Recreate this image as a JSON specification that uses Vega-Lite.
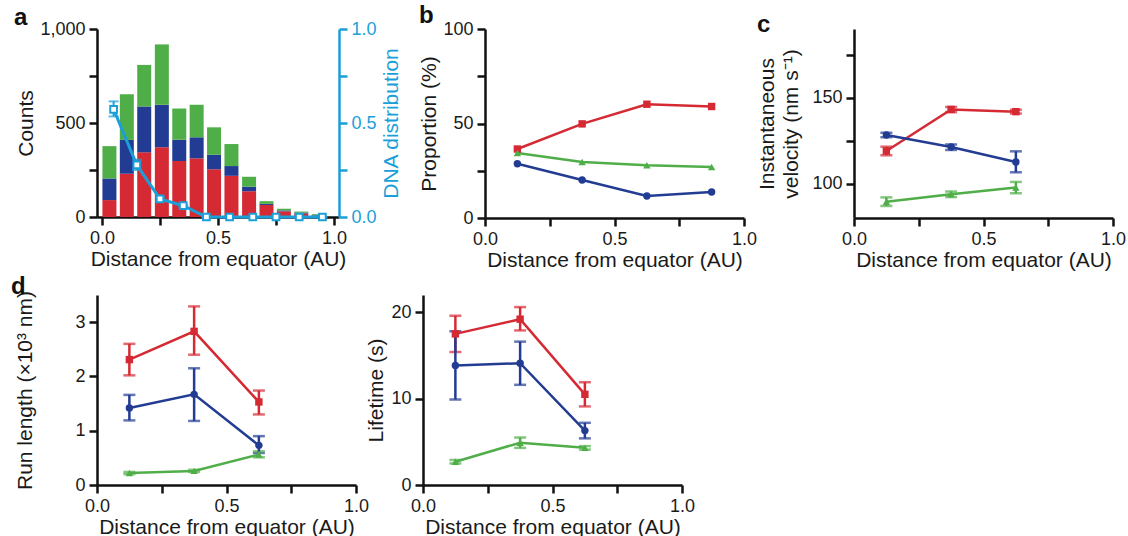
{
  "$schema": "https://vega.github.io/schema/vega-lite/v6.json",
  "padding": {"left": 10, "top": 4, "right": 0, "bottom": 0},
  "background": "white",
  "config": {
    "font": "Liberation Sans",
    "view": {"stroke": null},
    "axis": {
      "grid": false,
      "domainColor": "#111111",
      "domainWidth": 2.5,
      "tickColor": "#111111",
      "tickWidth": 2.5,
      "tickSize": 8,
      "labelFont": "Liberation Sans",
      "labelFontSize": 18,
      "labelColor": "#1a1a1a",
      "labelPadding": 4,
      "labelOverlap": false,
      "labelFlush": false,
      "titleFont": "Liberation Sans",
      "titleFontSize": 21,
      "titleFontWeight": "normal",
      "titleColor": "#1a1a1a",
      "titlePadding": 3
    },
    "axisX": {"titlePadding": 1},
    "title": {"font": "Liberation Sans", "fontSize": 24, "fontWeight": "bold", "color": "#111111", "anchor": "start", "frame": "bounds"}
  },
  "datasets": {
    "hist": [
      {"x": 0.032, "series": "s1", "count": 90}, {"x": 0.032, "series": "s2", "count": 115}, {"x": 0.032, "series": "s3", "count": 172},
      {"x": 0.107, "series": "s1", "count": 230}, {"x": 0.107, "series": "s2", "count": 180}, {"x": 0.107, "series": "s3", "count": 243},
      {"x": 0.182, "series": "s1", "count": 344}, {"x": 0.182, "series": "s2", "count": 244}, {"x": 0.182, "series": "s3", "count": 221},
      {"x": 0.258, "series": "s1", "count": 371}, {"x": 0.258, "series": "s2", "count": 226}, {"x": 0.258, "series": "s3", "count": 321},
      {"x": 0.333, "series": "s1", "count": 298}, {"x": 0.333, "series": "s2", "count": 113}, {"x": 0.333, "series": "s3", "count": 166},
      {"x": 0.408, "series": "s1", "count": 312}, {"x": 0.408, "series": "s2", "count": 112}, {"x": 0.408, "series": "s3", "count": 173},
      {"x": 0.483, "series": "s1", "count": 254}, {"x": 0.483, "series": "s2", "count": 77}, {"x": 0.483, "series": "s3", "count": 146},
      {"x": 0.558, "series": "s1", "count": 219}, {"x": 0.558, "series": "s2", "count": 52}, {"x": 0.558, "series": "s3", "count": 117},
      {"x": 0.634, "series": "s1", "count": 137}, {"x": 0.634, "series": "s2", "count": 24}, {"x": 0.634, "series": "s3", "count": 53},
      {"x": 0.709, "series": "s1", "count": 64}, {"x": 0.709, "series": "s2", "count": 6}, {"x": 0.709, "series": "s3", "count": 14},
      {"x": 0.784, "series": "s1", "count": 30}, {"x": 0.784, "series": "s2", "count": 5}, {"x": 0.784, "series": "s3", "count": 9},
      {"x": 0.859, "series": "s1", "count": 18}, {"x": 0.859, "series": "s2", "count": 5}, {"x": 0.859, "series": "s3", "count": 6},
      {"x": 0.934, "series": "s1", "count": 7}, {"x": 0.934, "series": "s2", "count": 3}, {"x": 0.934, "series": "s3", "count": 5}
    ],
    "dna": [
      {"x": 0.05, "v": 0.573, "lo": 0.535, "hi": 0.615},
      {"x": 0.15, "v": 0.277, "lo": 0.25, "hi": 0.305},
      {"x": 0.25, "v": 0.096, "lo": 0.086, "hi": 0.106},
      {"x": 0.35, "v": 0.06, "lo": 0.055, "hi": 0.065},
      {"x": 0.45, "v": 0, "lo": 0, "hi": 0},
      {"x": 0.55, "v": 0, "lo": 0, "hi": 0},
      {"x": 0.65, "v": 0, "lo": 0, "hi": 0},
      {"x": 0.75, "v": 0, "lo": 0, "hi": 0},
      {"x": 0.85, "v": 0, "lo": 0, "hi": 0},
      {"x": 0.95, "v": 0, "lo": 0, "hi": 0}
    ],
    "prop": [
      {"x": 0.125, "series": "s1", "v": 36.5}, {"x": 0.375, "series": "s1", "v": 49.8}, {"x": 0.625, "series": "s1", "v": 60.2}, {"x": 0.875, "series": "s1", "v": 59.0},
      {"x": 0.125, "series": "s2", "v": 28.7}, {"x": 0.375, "series": "s2", "v": 20.1}, {"x": 0.625, "series": "s2", "v": 11.6}, {"x": 0.875, "series": "s2", "v": 13.8},
      {"x": 0.125, "series": "s3", "v": 34.4}, {"x": 0.375, "series": "s3", "v": 29.6}, {"x": 0.625, "series": "s3", "v": 27.9}, {"x": 0.875, "series": "s3", "v": 27.0}
    ],
    "vel": [
      {"x": 0.125, "series": "s1", "v": 119, "lo": 116.5, "hi": 121.5},
      {"x": 0.375, "series": "s1", "v": 143.2, "lo": 141.6, "hi": 144.6},
      {"x": 0.625, "series": "s1", "v": 141.9, "lo": 140.8, "hi": 143.0},
      {"x": 0.125, "series": "s2", "v": 128.3, "lo": 127.0, "hi": 129.6},
      {"x": 0.375, "series": "s2", "v": 121.3, "lo": 119.6, "hi": 122.8},
      {"x": 0.625, "series": "s2", "v": 112.6, "lo": 106.6, "hi": 118.8},
      {"x": 0.125, "series": "s3", "v": 89.5, "lo": 87.0, "hi": 92.0},
      {"x": 0.375, "series": "s3", "v": 93.8, "lo": 92.2, "hi": 95.4},
      {"x": 0.625, "series": "s3", "v": 97.7, "lo": 94.4, "hi": 101.0}
    ],
    "run": [
      {"x": 0.125, "series": "s1", "v": 2.31, "lo": 2.02, "hi": 2.6},
      {"x": 0.375, "series": "s1", "v": 2.83, "lo": 2.4, "hi": 3.29},
      {"x": 0.625, "series": "s1", "v": 1.53, "lo": 1.3, "hi": 1.74},
      {"x": 0.125, "series": "s2", "v": 1.42, "lo": 1.19, "hi": 1.66},
      {"x": 0.375, "series": "s2", "v": 1.67, "lo": 1.18, "hi": 2.15},
      {"x": 0.625, "series": "s2", "v": 0.73, "lo": 0.59, "hi": 0.9},
      {"x": 0.125, "series": "s3", "v": 0.22, "lo": 0.2, "hi": 0.24},
      {"x": 0.375, "series": "s3", "v": 0.26, "lo": 0.24, "hi": 0.28},
      {"x": 0.625, "series": "s3", "v": 0.56, "lo": 0.51, "hi": 0.62}
    ],
    "life": [
      {"x": 0.125, "series": "s1", "v": 17.5, "lo": 15.4, "hi": 19.6},
      {"x": 0.375, "series": "s1", "v": 19.2, "lo": 17.9, "hi": 20.6},
      {"x": 0.625, "series": "s1", "v": 10.5, "lo": 9.1, "hi": 11.9},
      {"x": 0.125, "series": "s2", "v": 13.85, "lo": 9.9, "hi": 17.8},
      {"x": 0.375, "series": "s2", "v": 14.1, "lo": 11.6, "hi": 16.6},
      {"x": 0.625, "series": "s2", "v": 6.3, "lo": 5.4, "hi": 7.2},
      {"x": 0.125, "series": "s3", "v": 2.7, "lo": 2.5, "hi": 2.9},
      {"x": 0.375, "series": "s3", "v": 4.9, "lo": 4.3, "hi": 5.5},
      {"x": 0.625, "series": "s3", "v": 4.3, "lo": 4.1, "hi": 4.5}
    ]
  },
  "spacing": 5,
  "vconcat": [
    {
      "bounds": "flush",
      "spacing": 20,
      "hconcat": [
        {
          "width": 242, "height": 188,
          "title": {"text": "a", "offset": -10, "dx": -2},
          "encoding": {
            "x": {"field": "x", "type": "quantitative", "scale": {"domain": [0, 1], "nice": false},
                  "axis": {"title": "Distance from equator (AU)", "values": [0, 0.25, 0.5, 0.75, 1], "labelExpr": "datum.value == 0.25 || datum.value == 0.75 ? '' : format(datum.value, '.1f')"}}
          },
          "layer": [
            {
              "data": {"name": "hist"},
              "mark": {"type": "bar", "width": 14},
              "encoding": {
                "y": {"field": "count", "type": "quantitative", "stack": "zero", "scale": {"domain": [0, 1000], "nice": false},
                      "axis": {"title": "Counts", "values": [0, 250, 500, 750, 1000], "labelExpr": "datum.value % 500 == 0 ? format(datum.value, ',') : ''"}},
                "color": {"field": "series", "type": "nominal", "scale": {"domain": ["s1", "s2", "s3"], "range": ["#d52a33", "#223c93", "#4fae48"]}, "legend": null},
                "order": {"field": "series", "sort": "ascending"}
              }
            },
            {
              "data": {"name": "dna"},
              "layer": [
                {
                  "mark": {"type": "errorbar", "ticks": true, "size": 10, "thickness": 2, "color": "#1b9fd9"},
                  "encoding": {
                    "y": {"field": "lo", "type": "quantitative", "title": "DNA distribution", "scale": {"domain": [0, 1], "nice": false}},
                    "y2": {"field": "hi"}
                  }
                },
                {
                  "mark": {"type": "line", "color": "#1b9fd9", "strokeWidth": 3},
                  "encoding": {
                    "y": {"field": "v", "type": "quantitative", "title": "DNA distribution", "scale": {"domain": [0, 1], "nice": false},
                          "axis": {"orient": "right", "values": [0, 0.25, 0.5, 0.75, 1], "labelExpr": "datum.value == 0.25 || datum.value == 0.75 ? '' : format(datum.value, '.1f')",
                                   "domainColor": "#1b9fd9", "tickColor": "#1b9fd9", "labelColor": "#1b9fd9", "titleColor": "#1b9fd9", "titleAngle": 270, "titleBaseline": "top", "titlePadding": 4}}
                  }
                },
                {
                  "mark": {"type": "point", "shape": "square", "filled": true, "fill": "white", "stroke": "#1b9fd9", "strokeWidth": 2, "size": 45, "opacity": 1},
                  "encoding": {
                    "y": {"field": "v", "type": "quantitative", "title": "DNA distribution"}
                  }
                }
              ]
            }
          ],
          "resolve": {"scale": {"y": "independent"}, "axis": {"y": "independent"}}
        },
        {"width": 106, "height": 10, "data": {"values": []}, "mark": "point", "encoding": {}},
        {
          "width": 259, "height": 189,
          "title": {"text": "b", "offset": -8},
          "data": {"name": "prop"},
          "encoding": {
            "x": {"field": "x", "type": "quantitative", "scale": {"domain": [0, 1], "nice": false},
                  "axis": {"title": "Distance from equator (AU)", "values": [0, 0.25, 0.5, 0.75, 1], "labelExpr": "datum.value == 0.25 || datum.value == 0.75 ? '' : format(datum.value, '.1f')"}},
            "y": {"field": "v", "type": "quantitative", "scale": {"domain": [0, 100], "nice": false},
                  "axis": {"title": "Proportion (%)", "values": [0, 25, 50, 75, 100], "labelExpr": "datum.value % 50 == 0 ? format(datum.value, 'd') : ''"}},
            "color": {"field": "series", "type": "nominal", "scale": {"domain": ["s1", "s2", "s3"], "range": ["#d52a33", "#223c93", "#4fae48"]}, "legend": null}
          },
          "layer": [
            {"mark": {"type": "line", "strokeWidth": 2.5}},
            {"mark": {"type": "point", "filled": true, "opacity": 1, "size": 55},
             "encoding": {"shape": {"field": "series", "type": "nominal", "scale": {"domain": ["s1", "s2", "s3"], "range": ["square", "circle", "triangle-up"]}, "legend": null}}}
          ]
        },
        {"width": 70, "height": 10, "data": {"values": []}, "mark": "point", "encoding": {}},
        {
          "width": 259, "height": 189,
          "title": {"text": "c", "offset": -8},
          "data": {"name": "vel"},
          "encoding": {
            "x": {"field": "x", "type": "quantitative", "scale": {"domain": [0, 1], "nice": false},
                  "axis": {"title": "Distance from equator (AU)", "values": [0, 0.25, 0.5, 0.75, 1], "labelExpr": "datum.value == 0.25 || datum.value == 0.75 ? '' : format(datum.value, '.1f')"}},
            "color": {"field": "series", "type": "nominal", "scale": {"domain": ["s1", "s2", "s3"], "range": ["#d52a33", "#223c93", "#4fae48"]}, "legend": null}
          },
          "layer": [
            {"mark": {"type": "errorbar", "ticks": true, "size": 12, "thickness": 2.5},
             "encoding": {"y": {"field": "lo", "type": "quantitative", "title": ["Instantaneous", "velocity (nm s⁻¹)"], "scale": {"domain": [80, 190], "nice": false}}, "y2": {"field": "hi"}}},
            {"mark": {"type": "line", "strokeWidth": 2.5},
             "encoding": {"y": {"field": "v", "type": "quantitative", "title": ["Instantaneous", "velocity (nm s⁻¹)"],
                                "axis": {"values": [100, 125, 150, 175], "labelExpr": "datum.value % 50 == 0 ? format(datum.value, 'd') : ''", "titlePadding": 10, "titleLineHeight": 24}}}},
            {"mark": {"type": "point", "filled": true, "opacity": 1, "size": 55},
             "encoding": {"y": {"field": "v", "type": "quantitative", "title": ["Instantaneous", "velocity (nm s⁻¹)"]},
                          "shape": {"field": "series", "type": "nominal", "scale": {"domain": ["s1", "s2", "s3"], "range": ["square", "circle", "triangle-up"]}, "legend": null}}}
          ]
        }
      ]
    },
    {
      "bounds": "flush",
      "spacing": 67,
      "hconcat": [
        {
          "width": 259, "height": 190,
          "title": {"text": "d", "offset": -9, "dx": -4},
          "data": {"name": "run"},
          "encoding": {
            "x": {"field": "x", "type": "quantitative", "scale": {"domain": [0, 1], "nice": false},
                  "axis": {"title": "Distance from equator (AU)", "values": [0, 0.25, 0.5, 0.75, 1], "labelExpr": "datum.value == 0.25 || datum.value == 0.75 ? '' : format(datum.value, '.1f')"}},
            "color": {"field": "series", "type": "nominal", "scale": {"domain": ["s1", "s2", "s3"], "range": ["#d52a33", "#223c93", "#4fae48"]}, "legend": null}
          },
          "layer": [
            {"mark": {"type": "errorbar", "ticks": true, "size": 12, "thickness": 2.5},
             "encoding": {"y": {"field": "lo", "type": "quantitative", "title": "Run length (×10³ nm)", "scale": {"domain": [0, 3.5], "nice": false}}, "y2": {"field": "hi"}}},
            {"mark": {"type": "line", "strokeWidth": 2.5},
             "encoding": {"y": {"field": "v", "type": "quantitative", "title": "Run length (×10³ nm)",
                                "axis": {"values": [0, 1, 2, 3], "format": "d", "titlePadding": 39}}}},
            {"mark": {"type": "point", "filled": true, "opacity": 1, "size": 55},
             "encoding": {"y": {"field": "v", "type": "quantitative", "title": "Run length (×10³ nm)"},
                          "shape": {"field": "series", "type": "nominal", "scale": {"domain": ["s1", "s2", "s3"], "range": ["square", "circle", "triangle-up"]}, "legend": null}}}
          ]
        },
        {
          "width": 259, "height": 190,
          "data": {"name": "life"},
          "encoding": {
            "x": {"field": "x", "type": "quantitative", "scale": {"domain": [0, 1], "nice": false},
                  "axis": {"title": "Distance from equator (AU)", "values": [0, 0.25, 0.5, 0.75, 1], "labelExpr": "datum.value == 0.25 || datum.value == 0.75 ? '' : format(datum.value, '.1f')"}},
            "color": {"field": "series", "type": "nominal", "scale": {"domain": ["s1", "s2", "s3"], "range": ["#d52a33", "#223c93", "#4fae48"]}, "legend": null}
          },
          "layer": [
            {"mark": {"type": "errorbar", "ticks": true, "size": 12, "thickness": 2.5},
             "encoding": {"y": {"field": "lo", "type": "quantitative", "title": "Lifetime (s)", "scale": {"domain": [0, 22], "nice": false}}, "y2": {"field": "hi"}}},
            {"mark": {"type": "line", "strokeWidth": 2.5},
             "encoding": {"y": {"field": "v", "type": "quantitative", "title": "Lifetime (s)",
                                "axis": {"values": [0, 10, 20], "format": "d", "titlePadding": 4}}}},
            {"mark": {"type": "point", "filled": true, "opacity": 1, "size": 55},
             "encoding": {"y": {"field": "v", "type": "quantitative", "title": "Lifetime (s)"},
                          "shape": {"field": "series", "type": "nominal", "scale": {"domain": ["s1", "s2", "s3"], "range": ["square", "circle", "triangle-up"]}, "legend": null}}}
          ]
        }
      ]
    }
  ]
}
